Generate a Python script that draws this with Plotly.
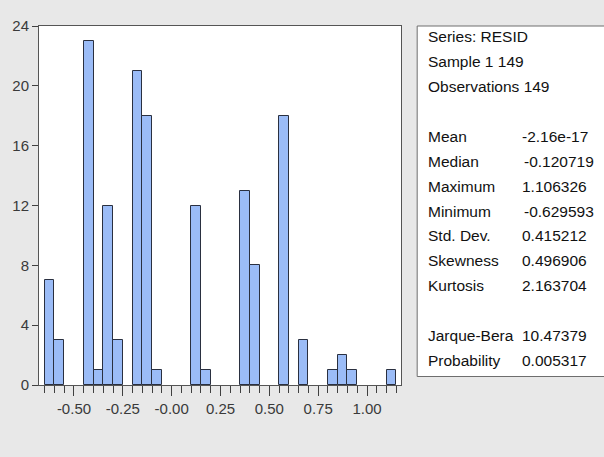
import plotly.graph_objects as go

# Histogram of residuals: bin left edges (width 0.05) and counts
bin_width = 0.05
bin_starts = [-0.65, -0.60, -0.55, -0.50, -0.45, -0.40, -0.35, -0.30, -0.25,
              -0.20, -0.15, -0.10, -0.05, 0.00, 0.05, 0.10, 0.15, 0.20,
              0.25, 0.30, 0.35, 0.40, 0.45, 0.50, 0.55, 0.60, 0.65, 0.70,
              0.75, 0.80, 0.85, 0.90, 0.95, 1.00, 1.05, 1.10]
counts = [7, 3, 0, 0, 23, 1, 12, 3, 0,
          21, 18, 1, 0, 0, 0, 12, 1, 0,
          0, 0, 13, 8, 0, 0, 18, 0, 3, 0,
          0, 1, 2, 1, 0, 0, 0, 1]

x_tickvals = [-0.50, -0.25, 0.00, 0.25, 0.50, 0.75, 1.00]
x_ticktext = ["-0.50", "-0.25", "-0.00", "0.25", "0.50", "0.75", "1.00"]
y_tickvals = [0, 4, 8, 12, 16, 20, 24]

# Descriptive statistics panel
header_lines = ["Series: RESID", "Sample 1 149", "Observations 149"]
stat_names = ["Mean", "Median", "Maximum", "Minimum", "Std. Dev.", "Skewness", "Kurtosis"]
stat_values = ["-2.16e-17", "-0.120719", "1.106326", "-0.629593", "0.415212", "0.496906", "2.163704"]
test_names = ["Jarque-Bera", "Probability"]
test_values = ["10.47379", "0.005317"]

W, H = 604, 457
L, R, T, B = 36, 400.7, 26, 385.5   # plot area in pixels

def px(xp):
    return (xp - L) / (R - L)

def py(yp):
    return (B - yp) / (B - T)

bar_x = [s + bin_width / 2 for s in bin_starts]
bar_y = [c if c > 0 else None for c in counts]

fig = go.Figure()
fig.add_trace(go.Bar(
    x=bar_x, y=bar_y, width=bin_width,
    marker=dict(color="#9bbcf7", line=dict(color="#2a3040", width=1)),
    hoverinfo="skip",
))

tick_font = dict(family="Liberation Sans Narrow, Arial Narrow, Liberation Sans, Arial",
                 size=15, color="#3a3a3a")

fig.update_layout(
    width=W, height=H,
    margin=dict(l=L, r=W - R, t=T, b=H - B, pad=0),
    paper_bgcolor="#e8e8e8",
    plot_bgcolor="#ffffff",
    showlegend=False,
    bargap=0,
)

minor_vals = [round(-0.65 + 0.05 * i, 2) for i in range(37)]

fig.update_xaxes(
    range=[-0.679, 1.174],
    tickvals=x_tickvals, ticktext=x_ticktext,
    ticks="outside", ticklen=10, tickwidth=1, tickcolor="#404040",
    minor=dict(tickvals=minor_vals, ticks="outside", ticklen=7,
               tickwidth=1, tickcolor="#404040"),
    showgrid=False, zeroline=False,
    showline=True, linecolor="#555555", linewidth=1, mirror=True,
    tickfont=tick_font,
)
fig.update_yaxes(
    range=[0, 24],
    tickvals=y_tickvals,
    ticks="outside", ticklen=6, tickwidth=1, tickcolor="#404040",
    showgrid=False, zeroline=False,
    showline=True, linecolor="#555555", linewidth=1, mirror=True,
    tickfont=tick_font,
)

# Statistics box
fig.add_shape(type="rect", xref="paper", yref="paper",
              x0=px(417), x1=px(612), y0=py(377), y1=py(26),
              fillcolor="#ffffff", line=dict(color="#6e6e6e", width=1),
              layer="below")

text_font = dict(family="Liberation Sans, Arial", size=15.5, color="#111111")
label_x = 425.5
value_x = 521.0
row0 = 37.0
step = 24.9

rows = [(h, None) for h in header_lines] + [(None, None)]
rows += list(zip(stat_names, stat_values)) + [(None, None)]
rows += list(zip(test_names, test_values))

for i, (name, val) in enumerate(rows):
    yc = row0 + step * i
    if name is not None:
        fig.add_annotation(xref="paper", yref="paper", x=px(label_x), y=py(yc),
                           text=name, showarrow=False, xanchor="left",
                           yanchor="middle", font=text_font)
    if val is not None:
        shift = 2 if val.startswith("-0.") else 0
        fig.add_annotation(xref="paper", yref="paper", x=px(value_x + shift), y=py(yc),
                           text=val, showarrow=False, xanchor="left",
                           yanchor="middle", font=text_font)

fig.write_html("out.html")
